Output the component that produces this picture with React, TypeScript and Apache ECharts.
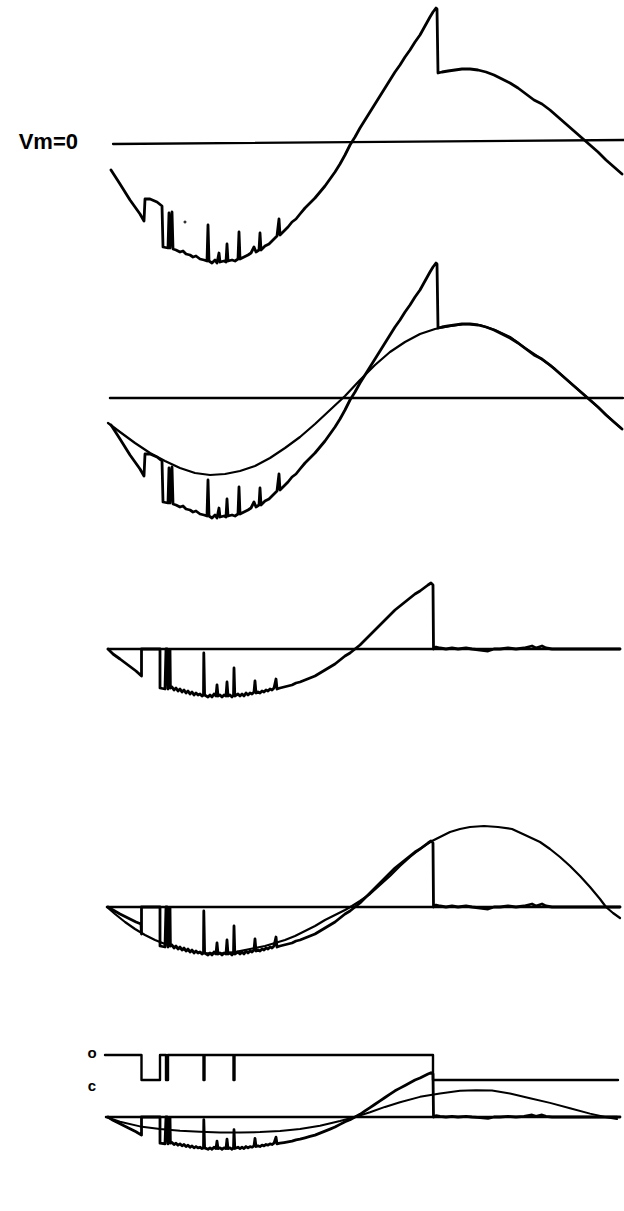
import React, { useEffect, useRef } from "react";
import * as echarts from "echarts";

// Time in ms from the start of the sweep; membrane potential in mV; current in pA.
// Values.

// Membrane potential during the action potential (panels 1 and 2)
const vmTrace: [number, number][] = [
  [1.5, -13.5], [6, -20.5], [11, -28.5], [16, -35.5], [18, -39], [18.5, -28], [21, -28], [24.5, -29.5],
  [27, -31.5], [27.5, -52], [30, -52.5], [30.5, -35], [31, -52.5], [32, -34.5], [32.5, -53], [34, -53.5],
  [36, -54.5], [37.5, -54], [39, -55.5], [41, -56], [42.5, -57], [44, -56.5], [46, -58], [48, -58.5],
  [49.5, -59], [50, -41], [50.5, -59], [52, -60], [53.5, -58.5], [54.5, -60], [55.5, -55], [56, -59.5],
  [58, -59], [59, -59.5], [59.5, -50.5], [60, -59], [62, -58.5], [63.5, -59], [65, -58], [65.5, -44.5],
  [66, -58], [68, -57], [70, -56], [71.5, -55], [73, -52], [74, -54.5], [75.5, -53.5], [76, -45],
  [76.5, -53.5], [78.5, -51.5], [80.5, -50.5], [82.5, -48.5], [84.5, -46.5], [85.5, -38], [86, -46],
  [88, -44], [90, -42], [92, -39.5], [94, -38], [96, -35.5], [98.5, -32.5], [101, -30], [103.5, -27.5],
  [106, -24.5], [108.5, -21.5], [111, -18], [113.5, -14.5], [116, -10.5], [118.5, -6], [121, -1],
  [123.5, 3], [126, 7.5], [128.5, 11.5], [131, 15.5], [133.5, 19.5], [136, 23.5], [138.5, 27.5],
  [141, 31.5], [143.5, 35.5], [146, 39], [148.5, 43], [151, 46.5], [153.5, 50.5], [156, 54],
  [158.5, 58.5], [161, 63], [162.5, 65.5], [164, 67.5], [164.5, 67], [165, 35], [167, 35.5], [170, 36],
  [173.5, 36.5], [177, 37], [181, 37], [185, 36.5], [189, 35.5], [193, 34], [197, 32], [201, 30],
  [205, 27.5], [209, 24.5], [213, 21.5], [217, 19.5], [221, 16.5], [225, 13], [229, 9.5], [233, 6],
  [237, 2.5], [241, -1], [245, -4.5], [249, -8.5], [253, -12], [257, -15.5],
];

// Isolated artefact point in the first sweep
const vmArtefact: [number, number][] = [[38.5, -39.5]];

// Smooth command waveform (panel 2)
const vmCommand: [number, number][] = [
  [0, -12.5], [6, -17], [13.5, -22.5], [21, -27.5], [28.5, -31.5], [36, -35], [43.5, -37.5],
  [51, -38.5], [58.5, -38], [66, -36.5], [73.5, -34], [81, -30], [88.5, -25], [96, -19.5],
  [103.5, -13], [111, -6], [118.5, 1], [126, 9], [133.5, 16.5], [141, 23], [148.5, 28], [156, 32],
  [163.5, 34.5], [171, 36], [178.5, 37], [186, 36.5], [193.5, 34], [201, 30.5], [208.5, 25],
  [216, 20], [223.5, 14.5], [231, 7.75], [238.5, 1.2], [246, -5.5], [253.5, -12.5], [256.5, -15],
];

// Single-channel current (panels 3, 4 and 5)
const channelCurrent: [number, number][] = [
  [0, 0], [2.5, -2.5], [6, -5], [10, -8], [14, -11], [16.75, -13.5], [16.75, 0], [26, 0],
  [26, -19.5], [28.5, -20], [29, 0], [29.5, 0], [30, -20], [30.5, -0.5], [31, -0.5], [31.2, -19.5],
  [32, -19], [33, -20.5], [34, -19.5], [35, -21], [36, -20], [37, -21.5], [38, -20.5], [39, -22],
  [40, -21], [41, -22.5], [42, -21.5], [43, -23], [44, -22], [45, -23], [46, -22.5], [47, -23.5],
  [47.75, -23], [47.9, -2], [48.3, -23], [50, -24], [51, -23], [52, -24], [53, -22.5], [54, -23.5],
  [54.5, -18], [55, -23.5], [56, -23], [57, -24], [58, -23], [59, -23.5], [59.5, -16.5], [60, -23.5],
  [61, -23], [62, -24], [62.75, -23], [63, -9.5], [63.4, -23.5], [65, -22.5], [66, -23.5], [67, -22.5],
  [68, -23.5], [69, -22], [70, -23], [71, -22], [72, -22.5], [73, -21.5], [73.5, -16], [74, -22],
  [75, -21.5], [76, -22], [77, -21], [78, -21.5], [79, -20.5], [80, -21], [81, -20], [82, -20.5],
  [83, -19.5], [84, -15], [84.5, -20], [86, -19.5], [88, -19], [90, -18.5], [92, -18], [94, -17],
  [96, -16.5], [98.5, -15.5], [101, -14.5], [103.5, -13.5], [106, -12], [108.5, -10.5], [111, -9],
  [113.5, -7.5], [116, -5.5], [118.5, -3.5], [121, -2], [123.5, 0], [126, 2], [128.5, 4.5], [131, 7],
  [133.5, 9.5], [136, 12], [138.5, 14.5], [141, 17], [143.5, 19.5], [146, 21.5], [148.5, 23.5],
  [151, 25.5], [153.5, 27.5], [156, 29], [158, 30.5], [160, 32], [161.5, 33], [162.5, 32],
  [162.75, 0], [164, 1], [166, 0.5], [169, 0], [172, 0.5], [175, 0], [179, 0.5], [182, 0],
  [186, -0.5], [190, -1], [193, 0], [196, 0], [200, 0.5], [204, 0], [208, 0.5], [212, 1.5],
  [214, 0.5], [217, 1.5], [219, 0.5], [222, 0], [256, 0],
];

// In the panel-4 sweep the first opening relaxes less before closing
const panel4Onset: [number, number][] = [
  [0, 0], [2.5, -1.5], [6, -3.5], [10, -5.5], [14, -7.5], [16.5, -8.5], [16.75, -13.5],
];

// Expected fully-open channel current (panel 4)
const openChannelCurrent: [number, number][] = [
  [-0.5, 0], [3.5, -3.5], [8.5, -7.5], [13.5, -11], [18.5, -14], [23.5, -16.5], [28.5, -18.5],
  [33.5, -20], [38.5, -21.5], [43.5, -22.5], [48.5, -23], [53.5, -23.25], [58.5, -23], [63.5, -22.5],
  [68.5, -21.5], [73.5, -20.5], [78.5, -19.5], [83.5, -18], [88.5, -16.5], [93.5, -14.5], [98.5, -12],
  [103.5, -9.5], [108.5, -6.5], [113.5, -4], [118.5, -1.5], [122, 0.5], [126, 3], [131, 6.5],
  [136, 11], [141, 15.5], [146, 20.5], [151, 25], [156, 29], [161, 32.5], [166, 35], [171, 37.5],
  [176, 39], [181, 40], [188, 40.5], [195, 40], [202, 39], [208.5, 36], [216, 32.5], [221, 29],
  [226, 25], [231, 20.5], [236, 15.5], [241, 10], [246, 4], [249, 0], [252.5, -3], [256, -5.5],
];

// Ensemble mean current (panel 5)
const meanCurrent: [number, number][] = [
  [-1, 0], [6, -3.5], [16, -7], [26, -9], [36, -10.25], [46, -11], [56, -11.5], [66, -11.5],
  [76, -11.25], [86, -10.5], [96, -9], [106, -6.5], [116, -3], [123.5, 0], [131, 3.5], [138.5, 7.5],
  [146, 11], [156, 15], [166, 17.5], [176, 19.5], [184, 20], [192, 19.75], [201, 17.5], [211, 14],
  [221, 10.5], [231, 6.5], [241, 2.5], [248.5, 0], [254.5, -1.5],
];

// Channel state: 1 = open (o), 0 = closed (c)
const gatingState: [number, number][] = [
  [-1.5, 1], [16.75, 1], [16.75, 0], [26, 0], [26, 1], [29, 1], [29, 0], [30, 0], [30, 1],
  [47.75, 1], [47.75, 0], [48.25, 0], [48.25, 1], [62.75, 1], [62.75, 0], [63.25, 0], [63.25, 1],
  [162.5, 1], [162.5, 0], [255, 0],
];

// Zero-level reference lines for each panel
const zeroLine1: [number, number][] = [[2.5, -0.5], [258, 1.5]];
const zeroLine2: [number, number][] = [[1, 0], [257.5, 0]];
const zeroLine3: [number, number][] = [[0, 0], [256, 0]];
const zeroLine4: [number, number][] = [[-0.5, 0], [256, 0]];
const zeroLine5: [number, number][] = [[-1, 0], [254.5, 0]];

// Layout (pixels)
const PANEL_ZERO_Y = [143, 398, 649, 907, 1163];
const GATE_TOP = 1055;
const GATE_HEIGHT = 25;

export default function App() {
  const ref = useRef<HTMLDivElement>(null);

  useEffect(() => {
    if (!ref.current) return;
    const chart = echarts.init(ref.current, undefined, { renderer: "svg" });

    const grids: any[] = [];
    const xAxes: any[] = [];
    const yAxes: any[] = [];
    PANEL_ZERO_Y.forEach((y0, i) => {
      grids.push({ left: 98, width: 526, top: y0 - 140, height: 280 });
      xAxes.push({ gridIndex: i, type: "value", min: -5, max: 258, show: false });
      yAxes.push({ gridIndex: i, type: "value", min: -70, max: 70, show: false });
    });
    grids.push({ left: 98, width: 526, top: GATE_TOP, height: GATE_HEIGHT });
    xAxes.push({ gridIndex: 5, type: "value", min: -5, max: 258, show: false });
    yAxes.push({ gridIndex: 5, type: "value", min: 0, max: 1, show: false });

    const line = (data: [number, number][], idx: number, width: number, z = 2) => ({
      type: "line",
      xAxisIndex: idx,
      yAxisIndex: idx,
      data,
      showSymbol: false,
      symbol: "none",
      silent: true,
      clip: false,
      z,
      lineStyle: { color: "#000", width, join: "round", cap: "round" },
    });

    const panel4Current = panel4Onset.concat(channelCurrent.slice(6));

    const option: any = {
      animation: false,
      backgroundColor: "#fff",
      grid: grids,
      xAxis: xAxes,
      yAxis: yAxes,
      series: [
        line(zeroLine1, 0, 2.3),
        line(vmTrace, 0, 2.8),
        {
          type: "scatter",
          xAxisIndex: 0,
          yAxisIndex: 0,
          data: vmArtefact,
          symbolSize: 3,
          silent: true,
          itemStyle: { color: "#000" },
        },
        line(zeroLine2, 1, 2.5),
        line(vmCommand, 1, 2.2),
        line(vmTrace, 1, 2.8),
        line(zeroLine3, 2, 2.5),
        line(channelCurrent, 2, 2.8),
        line(zeroLine4, 3, 2.5),
        line(openChannelCurrent, 3, 2.2),
        line(panel4Current, 3, 2.8),
        line(gatingState, 5, 2.4),
        line(zeroLine5, 4, 2.5),
        line(meanCurrent, 4, 2),
        line(channelCurrent, 4, 2.8),
      ],
      graphic: [
        {
          type: "text",
          x: 78,
          y: 141,
          style: {
            text: "Vm=0",
            fontSize: 22,
            fontWeight: "bold",
            fontFamily: "Liberation Sans",
            fill: "#000",
            align: "right",
            verticalAlign: "middle",
          },
        },
        {
          type: "text",
          x: 92,
          y: 1052,
          style: {
            text: "o",
            fontSize: 15,
            fontWeight: "bold",
            fontFamily: "Liberation Sans",
            fill: "#000",
            align: "center",
            verticalAlign: "middle",
          },
        },
        {
          type: "text",
          x: 92,
          y: 1085,
          style: {
            text: "c",
            fontSize: 15,
            fontWeight: "bold",
            fontFamily: "Liberation Sans",
            fill: "#000",
            align: "center",
            verticalAlign: "middle",
          },
        },
      ],
    };
    chart.setOption(option);
    return () => chart.dispose();
  }, []);

  return (
    <div
      ref={ref}
      style={{ position: "absolute", left: 0, top: 0, width: 624, height: 1211, background: "#fff" }}
    />
  );
}
